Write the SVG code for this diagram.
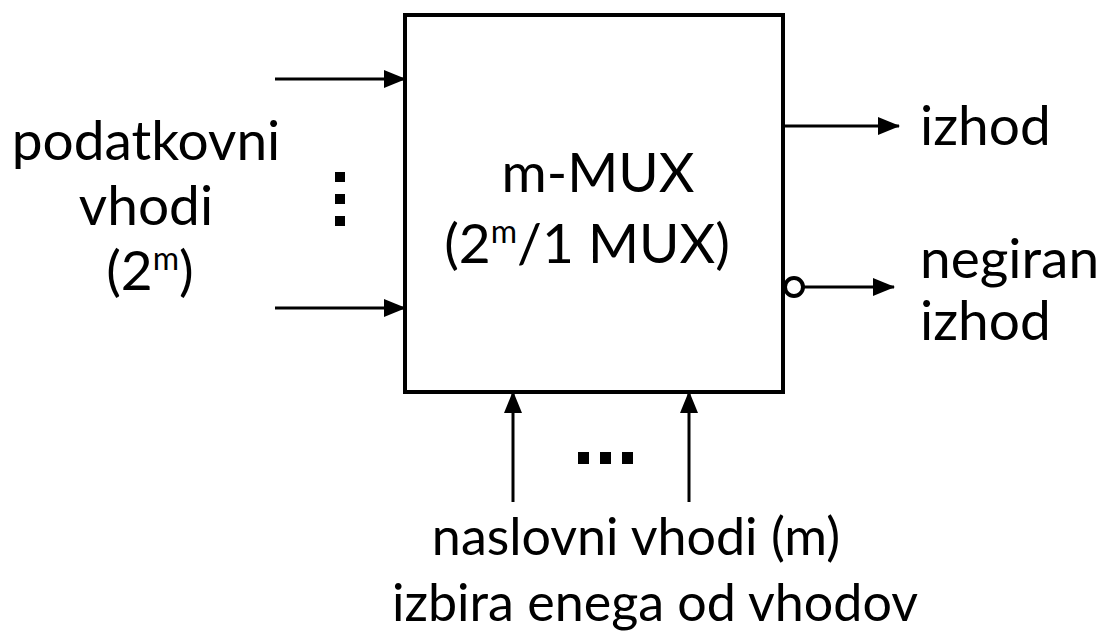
<svg xmlns="http://www.w3.org/2000/svg" width="1101" height="633" viewBox="0 0 1101 633">
<style>
text{font-family:Lato,"Liberation Sans",sans-serif;font-size:55px;fill:#000}
.sm{font-size:52px}
.w{stroke:#000;stroke-width:3;fill:none}
.dot{fill:#000}
</style>
<defs>
<marker id="ah" markerWidth="22" markerHeight="18" refX="21" refY="9" orient="auto" markerUnits="userSpaceOnUse">
<path d="M0,0 L22,9 L0,18 Z" fill="#000"/>
</marker>
</defs>
<rect width="1101" height="633" fill="#fff"/>
<g id="mux">
<rect x="405" y="15" width="378" height="377" fill="#fff" stroke="#000" stroke-width="4"/>
<text x="598" y="192" text-anchor="middle">m-MUX</text>
<text x="587" y="263" text-anchor="middle">(2<tspan font-size="32" dy="-20">m</tspan><tspan dy="20">/1 MUX)</tspan></text>
</g>
<g id="connectors">
<line class="w" x1="275" y1="79" x2="405" y2="79" marker-end="url(#ah)"/>
<line class="w" x1="275" y1="308" x2="405" y2="308" marker-end="url(#ah)"/>
<line class="w" x1="783" y1="126" x2="899" y2="126" marker-end="url(#ah)"/>
<circle cx="794" cy="287" r="9" fill="#fff" stroke="#000" stroke-width="4"/>
<line class="w" x1="803" y1="287" x2="894" y2="287" marker-end="url(#ah)"/>
<line class="w" x1="513" y1="502" x2="513" y2="392" marker-end="url(#ah)"/>
<line class="w" x1="689" y1="502" x2="689" y2="392" marker-end="url(#ah)"/>
</g>
<g id="dots">
<rect class="dot" x="335" y="172" width="10" height="10"/>
<rect class="dot" x="335" y="194" width="10" height="10"/>
<rect class="dot" x="335" y="216" width="10" height="10"/>
<rect class="dot" x="578" y="452" width="11" height="12"/>
<rect class="dot" x="600" y="452" width="11" height="12"/>
<rect class="dot" x="622" y="452" width="11" height="12"/>
</g>
<g id="data-label">
<text x="146" y="160" text-anchor="middle">podatkovni</text>
<text x="146" y="225" text-anchor="middle">vhodi</text>
<text x="150" y="290" text-anchor="middle">(2<tspan font-size="32" dy="-20">m</tspan><tspan dy="20">)</tspan></text>
</g>
<g id="out-label">
<text x="920" y="145">izhod</text>
<text x="920" y="278">negiran</text>
<text x="920" y="340">izhod</text>
</g>
<g id="sel-label">
<text class="sm" x="636" y="555" text-anchor="middle">naslovni vhodi (m)</text>
<text class="sm" x="655" y="621" text-anchor="middle">izbira enega od vhodov</text>
</g>
</svg>
